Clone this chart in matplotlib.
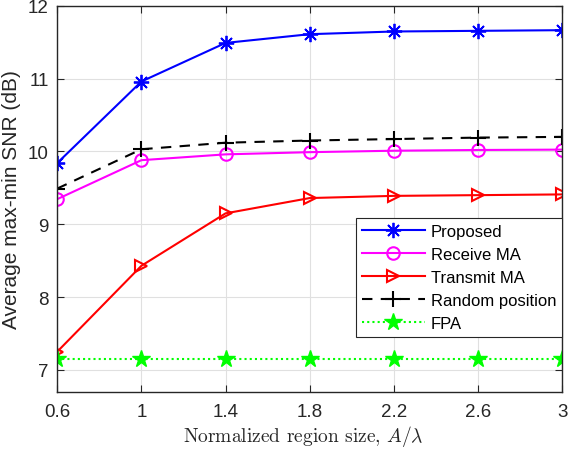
import matplotlib
matplotlib.use("Agg")
import matplotlib.pyplot as plt

region_size = [0.6, 1.0, 1.4, 1.8, 2.2, 2.6, 3.0]
x_ticks = [0.6, 1, 1.4, 1.8, 2.2, 2.6, 3]
x_tick_labels = ["0.6", "1", "1.4", "1.8", "2.2", "2.6", "3"]
y_ticks = [7, 8, 9, 10, 11, 12]

proposed = [9.84, 10.96, 11.49, 11.61, 11.647, 11.656, 11.665]
receive_ma = [9.345, 9.88, 9.96, 9.99, 10.01, 10.02, 10.025]
transmit_ma = [7.25, 8.43, 9.15, 9.36, 9.39, 9.40, 9.41]
random_pos = [9.49, 10.03, 10.12, 10.15, 10.17, 10.19, 10.20]
fpa = [7.15, 7.15, 7.15, 7.15, 7.15, 7.15, 7.15]

plt.rcParams['font.family'] = ['Liberation Sans', 'DejaVu Sans']
plt.rcParams['mathtext.fontset'] = 'cm'

fig = plt.figure(figsize=(5.72, 4.52), dpi=100)
ax = fig.add_axes([0.100, 0.131, 0.883, 0.854])

spine_c = '#262626'
ax.plot(region_size, proposed, color='#0000ff', lw=1.5, marker=(8, 2, 0), ms=11,
        mew=1.3, label='Proposed')
ax.plot(region_size, receive_ma, color='#ff00ff', lw=1.5, marker='o', ms=9,
        mfc='none', mew=1.5, label='Receive MA')
ax.plot(region_size, transmit_ma, color='#ff0000', lw=1.5, marker='>', ms=9,
        mfc='none', mew=1.5, label='Transmit MA')
ax.plot(region_size, random_pos, color='black', lw=1.5, ls=(0, (5, 4)), marker='+',
        ms=11, mew=1.5, label='Random position')
ax.plot(region_size, fpa, color='#00ff00', lw=1.5, ls=(0, (1, 1.5)), marker='*', ms=13,
        mfc='#00ff00', mew=1.0, label='FPA')

ax.set_xlim(0.6, 3)
ax.set_ylim(6.7, 12)
ax.set_xticks(x_ticks)
ax.set_xticklabels(x_tick_labels)
ax.set_yticks(y_ticks)
ax.grid(True, color='#e0e0e0', lw=0.8)
ax.set_axisbelow(True)
for s in ax.spines.values():
    s.set_color(spine_c)
    s.set_linewidth(1.0)
ax.tick_params(direction='in', top=True, right=True, length=5, width=0.8,
               colors=spine_c, labelsize=13.5, labelcolor='#262626')
ax.tick_params(axis='x', pad=8)
ax.tick_params(axis='y', pad=6)

ax.set_xlabel('Normalized region size, $A/\\lambda$', family=['cmr10', 'DejaVu Serif'],
              fontsize=14, color='#262626', labelpad=4)
ax.xaxis.set_label_coords(0.488, -0.082)
ax.set_ylabel('Average max-min SNR (dB)', fontsize=15, color='#262626', labelpad=5)

leg = ax.legend(loc='upper right', bbox_to_anchor=(1.0, 1 - (219 - 6.7) / 386.0),
                fontsize=12, handlelength=3.8, frameon=True, fancybox=False,
                edgecolor='#262626', framealpha=1, borderpad=0.35, labelspacing=0.48,
                handletextpad=0.35, borderaxespad=0)
leg.get_frame().set_linewidth(0.8)

fig.savefig('out.png', dpi=100)
